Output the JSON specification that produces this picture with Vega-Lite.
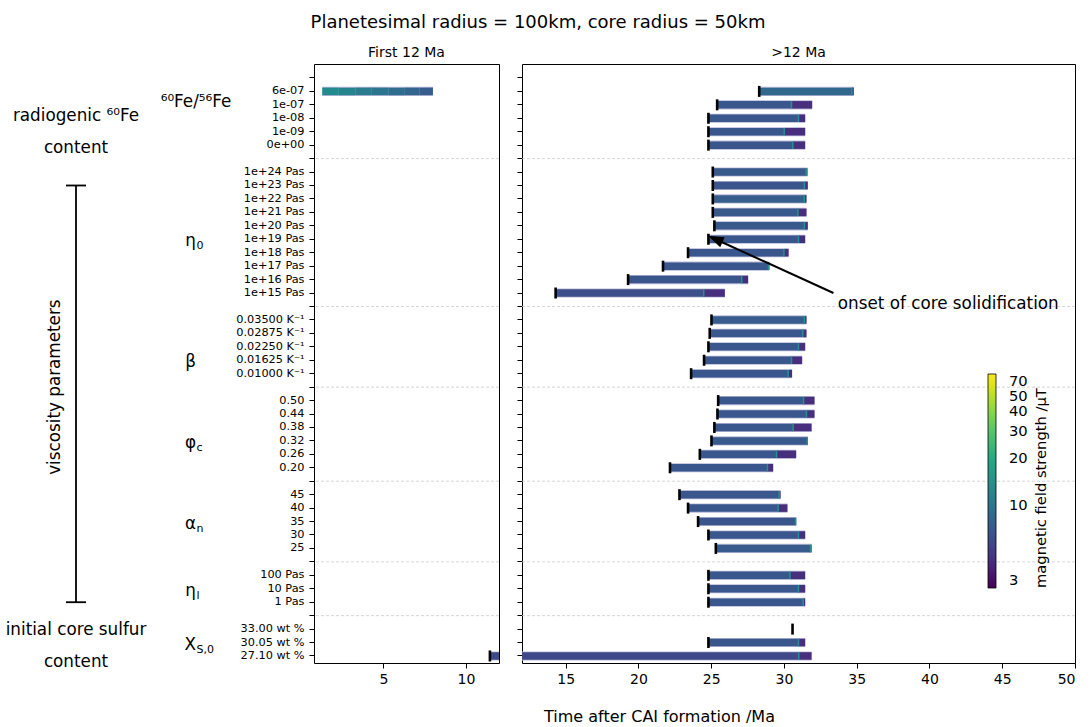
{
  "$schema": "https://vega.github.io/schema/vega-lite/v6.json",
  "padding": {"left": 0, "top": 13, "right": 0, "bottom": 0},
  "title": {"text": "Planetesimal radius = 100km, core radius = 50km", "fontSize": 18, "fontWeight": "normal", "anchor": "middle", "offset": 14, "color": "black"},
  "config": {
    "font": "DejaVu Sans",
    "view": {"stroke": "black", "strokeWidth": 1},
    "axis": {"domainColor": "black", "tickColor": "black", "labelColor": "black", "titleColor": "black", "grid": false, "labelFont": "DejaVu Sans", "titleFont": "DejaVu Sans"},
    "legend": {"labelFont": "DejaVu Sans", "titleFont": "DejaVu Sans", "labelColor": "black", "titleColor": "black"},
    "title": {"font": "DejaVu Sans"},
    "text": {"font": "DejaVu Sans", "color": "black"}
  },
  "datasets": {
    "runs": [
      {"p": "6e-07", "onset": 28.3, "solid": 34.67, "end": 34.8, "B": 8.6},
      {"p": "1e-07", "onset": 25.41, "solid": 30.52, "end": 31.94, "B": 7.0},
      {"p": "1e-08", "onset": 24.81, "solid": 31.0, "end": 31.46, "B": 7.0},
      {"p": "1e-09", "onset": 24.81, "solid": 30.02, "end": 31.46, "B": 7.0},
      {"p": "0e+00", "onset": 24.81, "solid": 30.61, "end": 31.46, "B": 7.0},
      {"p": "1e+24 Pas", "onset": 25.11, "solid": 31.53, "end": 31.62, "B": 7.2},
      {"p": "1e+23 Pas", "onset": 25.11, "solid": 31.41, "end": 31.64, "B": 6.8},
      {"p": "1e+22 Pas", "onset": 25.11, "solid": 31.4, "end": 31.55, "B": 7.6},
      {"p": "1e+21 Pas", "onset": 25.11, "solid": 30.96, "end": 31.55, "B": 7.2},
      {"p": "1e+20 Pas", "onset": 25.22, "solid": 31.41, "end": 31.64, "B": 7.2},
      {"p": "1e+19 Pas", "onset": 24.81, "solid": 31.0, "end": 31.46, "B": 7.0},
      {"p": "1e+18 Pas", "onset": 23.41, "solid": 30.0, "end": 30.32, "B": 7.0},
      {"p": "1e+17 Pas", "onset": 21.69, "solid": 28.94, "end": 29.0, "B": 7.0},
      {"p": "1e+16 Pas", "onset": 19.29, "solid": 27.1, "end": 27.54, "B": 6.9},
      {"p": "1e+15 Pas", "onset": 14.31, "solid": 24.49, "end": 25.94, "B": 6.3},
      {"p": "0.03500 K⁻¹", "onset": 25.02, "solid": 31.41, "end": 31.55, "B": 7.4},
      {"p": "0.02875 K⁻¹", "onset": 24.9, "solid": 31.3, "end": 31.55, "B": 7.0},
      {"p": "0.02250 K⁻¹", "onset": 24.81, "solid": 31.0, "end": 31.46, "B": 7.0},
      {"p": "0.01625 K⁻¹", "onset": 24.51, "solid": 30.52, "end": 31.25, "B": 7.0},
      {"p": "0.01000 K⁻¹", "onset": 23.62, "solid": 30.29, "end": 30.56, "B": 7.0},
      {"p": "0.50", "onset": 25.48, "solid": 31.35, "end": 32.1, "B": 7.0},
      {"p": "0.44", "onset": 25.43, "solid": 31.55, "end": 32.1, "B": 7.0},
      {"p": "0.38", "onset": 25.22, "solid": 30.63, "end": 31.9, "B": 7.0},
      {"p": "0.32", "onset": 25.02, "solid": 31.6, "end": 31.64, "B": 7.2},
      {"p": "0.26", "onset": 24.22, "solid": 29.49, "end": 30.84, "B": 7.0},
      {"p": "0.20", "onset": 22.17, "solid": 28.87, "end": 29.26, "B": 7.0},
      {"p": "45", "onset": 22.82, "solid": 29.67, "end": 29.77, "B": 7.0},
      {"p": "40", "onset": 23.41, "solid": 29.6, "end": 30.24, "B": 7.0},
      {"p": "35", "onset": 24.1, "solid": 30.8, "end": 30.84, "B": 6.9},
      {"p": "30", "onset": 24.81, "solid": 31.0, "end": 31.46, "B": 7.0},
      {"p": "25", "onset": 25.32, "solid": 31.83, "end": 31.9, "B": 7.3},
      {"p": "100 Pas", "onset": 24.81, "solid": 30.41, "end": 31.46, "B": 7.0},
      {"p": "10 Pas", "onset": 24.81, "solid": 31.0, "end": 31.46, "B": 7.0},
      {"p": "1 Pas", "onset": 24.81, "solid": 31.32, "end": 31.46, "B": 7.0},
      {"p": "33.00 wt %", "onset": 30.59, "solid": null, "end": null, "B": null},
      {"p": "30.05 wt %", "onset": 24.81, "solid": 31.0, "end": 31.46, "B": 7.0},
      {"p": "27.10 wt %", "onset": 11.45, "solid": 31.02, "end": 31.9, "B": 5.9}
    ],
    "early": [
      {"p": "6e-07", "t0": 1.3, "t1": 2.3, "B": 13.5},
      {"p": "6e-07", "t0": 2.3, "t1": 3.3, "B": 12.3},
      {"p": "6e-07", "t0": 3.3, "t1": 4.3, "B": 11.2},
      {"p": "6e-07", "t0": 4.3, "t1": 5.3, "B": 10.2},
      {"p": "6e-07", "t0": 5.3, "t1": 6.3, "B": 9.2},
      {"p": "6e-07", "t0": 6.3, "t1": 7.2, "B": 8.3},
      {"p": "6e-07", "t0": 7.2, "t1": 8.0, "B": 7.5}
    ],
    "seps": [{"r": "b1"}, {"r": "b2"}, {"r": "b3"}, {"r": "b4"}, {"r": "b5"}, {"r": "b6"}],
    "farleft1": [{"lab": "radiogenic ⁶⁰Fe\ncontent", "row": "1e-08", "col": "group"}],
    "farleft2": [{"lab": "initial core sulfur\ncontent", "row": "33.00 wt %", "col": "group"}],
    "vis": [{"lab": "viscosity parameters", "row": "b3", "col": "group"}],
    "bracket": [{"col": "group", "r1": "1e+23 Pas", "r2": "1 Pas"}],
    "caps": [{"col": "group", "r": "1e+23 Pas"}, {"col": "group", "r": "1 Pas"}],
    "fe": [{"lab": "⁶⁰Fe/⁵⁶Fe", "row": "1e-07", "col": "param"}],
    "params": [
      {"row": "1e+19 Pas", "main": "η", "sub": "0", "col": "param"},
      {"row": "0.01625 K⁻¹", "main": "β", "sub": "", "col": "param"},
      {"row": "0.32", "main": "φ", "sub": "c", "col": "param"},
      {"row": "35", "main": "α", "sub": "n", "col": "param"},
      {"row": "10 Pas", "main": "η", "sub": "l", "col": "param"},
      {"row": "30.05 wt %", "main": "X", "sub": "S,0", "col": "param"}
    ],
    "arrow": [{"x1": 33.4, "r1": "1e+15 Pas", "x2": 25.3, "r2": "1e+19 Pas"}],
    "note": [{"lab": "onset of core solidification", "x": 33.7, "row": "1e+15 Pas"}]
  },
  "bounds": "flush",
  "spacing": 23,
  "resolve": {"scale": {"x": "independent", "y": "independent", "color": "shared"}},
  "hconcat": [
    {
      "width": 291,
      "height": 599,
      "view": {"stroke": null},
      "layer": [
        {
          "data": {"name": "farleft1"},
          "mark": {"type": "text", "lineBreak": "\n", "lineHeight": 32, "fontSize": 16.8, "align": "center", "baseline": "middle", "dy": -2},
          "encoding": {
            "x": {"field": "col", "type": "nominal", "scale": {"type": "point", "domain": ["group", "param"], "range": [76, 196], "padding": 0}, "axis": null},
            "y": {"field": "row", "type": "nominal", "scale": {"type": "band", "domain": ["b0", "6e-07", "1e-07", "1e-08", "1e-09", "0e+00", "b1", "1e+24 Pas", "1e+23 Pas", "1e+22 Pas", "1e+21 Pas", "1e+20 Pas", "1e+19 Pas", "1e+18 Pas", "1e+17 Pas", "1e+16 Pas", "1e+15 Pas", "b2", "0.03500 K⁻¹", "0.02875 K⁻¹", "0.02250 K⁻¹", "0.01625 K⁻¹", "0.01000 K⁻¹", "b3", "0.50", "0.44", "0.38", "0.32", "0.26", "0.20", "b4", "45", "40", "35", "30", "25", "b5", "100 Pas", "10 Pas", "1 Pas", "b6", "33.00 wt %", "30.05 wt %", "27.10 wt %"], "paddingInner": 0, "paddingOuter": 0.28, "align": 0.96}, "axis": null},
            "text": {"field": "lab", "type": "nominal"}
          }
        },
        {
          "data": {"name": "farleft2"},
          "mark": {"type": "text", "lineBreak": "\n", "lineHeight": 32, "fontSize": 16.8, "align": "center", "baseline": "middle", "dy": 1},
          "encoding": {
            "x": {"field": "col", "type": "nominal"},
            "y": {"field": "row", "type": "nominal"},
            "text": {"field": "lab", "type": "nominal"}
          }
        },
        {
          "data": {"name": "vis"},
          "mark": {"type": "text", "fontSize": 16.8, "angle": 270, "align": "center", "baseline": "middle", "dy": -21},
          "encoding": {
            "x": {"field": "col", "type": "nominal"},
            "y": {"field": "row", "type": "nominal"},
            "text": {"field": "lab", "type": "nominal"}
          }
        },
        {
          "data": {"name": "bracket"},
          "mark": {"type": "rule", "color": "black", "strokeWidth": 1.8},
          "encoding": {
            "x": {"field": "col", "type": "nominal"},
            "y": {"field": "r1", "type": "nominal"},
            "y2": {"field": "r2"}
          }
        },
        {
          "data": {"name": "caps"},
          "mark": {"type": "point", "shape": "M-1,0H1", "size": 400, "filled": false, "stroke": "black", "strokeWidth": 1.8, "opacity": 1},
          "encoding": {
            "x": {"field": "col", "type": "nominal"},
            "y": {"field": "r", "type": "nominal"}
          }
        },
        {
          "data": {"name": "fe"},
          "mark": {"type": "text", "fontSize": 16.8, "align": "center", "baseline": "middle", "dy": -3},
          "encoding": {
            "x": {"field": "col", "type": "nominal"},
            "y": {"field": "row", "type": "nominal"},
            "text": {"field": "lab", "type": "nominal"}
          }
        },
        {
          "data": {"name": "params"},
          "mark": {"type": "text", "fontSize": 16.8, "align": "right", "baseline": "middle", "dy": 2},
          "encoding": {
            "x": {"field": "col", "type": "nominal"},
            "y": {"field": "row", "type": "nominal"},
            "text": {"field": "main", "type": "nominal"}
          }
        },
        {
          "data": {"name": "params"},
          "mark": {"type": "text", "fontSize": 11, "align": "left", "baseline": "middle", "dy": 7, "dx": 0.5},
          "encoding": {
            "x": {"field": "col", "type": "nominal"},
            "y": {"field": "row", "type": "nominal"},
            "text": {"field": "sub", "type": "nominal"}
          }
        }
      ]
    },
    {
      "width": 185,
      "height": 599,
      "title": {"text": "First 12 Ma", "fontSize": 14, "fontWeight": "normal", "offset": 4, "color": "black"},
      "encoding": {
        "y": {"field": "p", "type": "nominal", "scale": {"type": "band", "domain": ["b0", "6e-07", "1e-07", "1e-08", "1e-09", "0e+00", "b1", "1e+24 Pas", "1e+23 Pas", "1e+22 Pas", "1e+21 Pas", "1e+20 Pas", "1e+19 Pas", "1e+18 Pas", "1e+17 Pas", "1e+16 Pas", "1e+15 Pas", "b2", "0.03500 K⁻¹", "0.02875 K⁻¹", "0.02250 K⁻¹", "0.01625 K⁻¹", "0.01000 K⁻¹", "b3", "0.50", "0.44", "0.38", "0.32", "0.26", "0.20", "b4", "45", "40", "35", "30", "25", "b5", "100 Pas", "10 Pas", "1 Pas", "b6", "33.00 wt %", "30.05 wt %", "27.10 wt %"], "paddingInner": 0, "paddingOuter": 0.28, "align": 0.96}, "axis": {"title": null, "labelFontSize": 11.3, "tickSize": 5, "labelPadding": 5, "domain": false, "labelExpr": "indexof(['b0','b1','b2','b3','b4','b5','b6'], datum.value) >= 0 ? '' : datum.value"}}
      },
      "layer": [
        {
          "data": {"name": "seps"},
          "mark": {"type": "rule", "color": "#cccccc", "strokeWidth": 0.8, "strokeDash": [3, 2]},
          "encoding": {"y": {"field": "r", "type": "nominal"}}
        },
        {
          "data": {"name": "early"},
          "mark": {"type": "bar", "clip": true, "color": "#b9b9d8", "height": {"band": 0.68}},
          "encoding": {
            "x": {"aggregate": "min", "field": "t0", "type": "quantitative", "scale": {"domain": [0.8, 12], "nice": false, "zero": false}, "axis": {"title": null, "values": [5, 10], "labelFontSize": 14, "tickSize": 5, "domain": false, "labelPadding": 4}},
            "x2": {"aggregate": "max", "field": "t1"}
          }
        },
        {
          "data": {"name": "early"},
          "mark": {"type": "bar", "clip": true, "height": {"band": 0.56}},
          "encoding": {
            "x": {"field": "t0", "type": "quantitative"},
            "x2": {"field": "t1"},
            "color": {"field": "B", "type": "quantitative", "scale": {"type": "log", "domain": [3, 70], "scheme": "viridis"}, "legend": {"title": "magnetic field strength /μT", "orient": "none", "legendX": 988, "legendY": 310, "direction": "vertical", "gradientLength": 214, "gradientThickness": 8, "values": [3, 10, 20, 30, 40, 50, 70], "titleOrient": "right", "titleAnchor": "start", "titleAlign": "left", "titleBaseline": "top", "titleLimit": 400, "titlePadding": 6, "labelFontSize": 14.7, "titleFontSize": 14.7, "titleFontWeight": "normal", "gradientStrokeColor": "black", "gradientStrokeWidth": 0.8, "labelOverlap": false, "labelOffset": 13, "labelBaseline": "middle", "encoding": {"title": {"angle": {"value": 270}}}}}
          }
        },
        {
          "data": {"name": "runs"},
          "mark": {"type": "bar", "clip": true, "color": "#b9b9d8", "height": {"band": 0.68}},
          "encoding": {"x": {"field": "onset", "type": "quantitative"}, "x2": {"field": "end"}}
        },
        {
          "data": {"name": "runs"},
          "mark": {"type": "bar", "clip": true, "height": {"band": 0.56}},
          "encoding": {
            "x": {"field": "onset", "type": "quantitative"},
            "x2": {"field": "solid"},
            "color": {"field": "B", "type": "quantitative", "legend": {"title": "magnetic field strength /μT", "orient": "none", "legendX": 988, "legendY": 310, "direction": "vertical", "gradientLength": 214, "gradientThickness": 8, "values": [3, 10, 20, 30, 40, 50, 70], "titleOrient": "right", "titleAnchor": "start", "titleAlign": "left", "titleBaseline": "top", "titleLimit": 400, "titlePadding": 6, "labelFontSize": 14.7, "titleFontSize": 14.7, "titleFontWeight": "normal", "gradientStrokeColor": "black", "gradientStrokeWidth": 0.8, "labelOverlap": false, "labelOffset": 13, "labelBaseline": "middle", "encoding": {"title": {"angle": {"value": 270}}}}}
          }
        },
        {
          "data": {"name": "runs"},
          "mark": {"type": "tick", "clip": true, "color": "black", "thickness": 2.6, "size": 11, "opacity": 1},
          "encoding": {"x": {"field": "onset", "type": "quantitative"}}
        }
      ]
    },
    {
      "width": 553,
      "height": 599,
      "title": {"text": ">12 Ma", "fontSize": 14, "fontWeight": "normal", "offset": 4, "color": "black"},
      "encoding": {
        "y": {"field": "p", "type": "nominal", "scale": {"type": "band", "domain": ["b0", "6e-07", "1e-07", "1e-08", "1e-09", "0e+00", "b1", "1e+24 Pas", "1e+23 Pas", "1e+22 Pas", "1e+21 Pas", "1e+20 Pas", "1e+19 Pas", "1e+18 Pas", "1e+17 Pas", "1e+16 Pas", "1e+15 Pas", "b2", "0.03500 K⁻¹", "0.02875 K⁻¹", "0.02250 K⁻¹", "0.01625 K⁻¹", "0.01000 K⁻¹", "b3", "0.50", "0.44", "0.38", "0.32", "0.26", "0.20", "b4", "45", "40", "35", "30", "25", "b5", "100 Pas", "10 Pas", "1 Pas", "b6", "33.00 wt %", "30.05 wt %", "27.10 wt %"], "paddingInner": 0, "paddingOuter": 0.28, "align": 0.96}, "axis": {"title": null, "labels": false, "tickSize": 5, "domain": false}}
      },
      "layer": [
        {
          "data": {"name": "seps"},
          "mark": {"type": "rule", "color": "#cccccc", "strokeWidth": 0.8, "strokeDash": [3, 2]},
          "encoding": {"y": {"field": "r", "type": "nominal"}}
        },
        {
          "data": {"name": "runs"},
          "mark": {"type": "bar", "clip": true, "color": "#b9b9d8", "height": {"band": 0.68}},
          "encoding": {
            "x": {"field": "onset", "type": "quantitative", "scale": {"domain": [12, 50], "nice": false, "zero": false}, "axis": {"title": "Time after CAI formation /Ma", "values": [15, 20, 25, 30, 35, 40, 45, 50], "labelFontSize": 14, "tickSize": 5, "domain": false, "labelPadding": 4, "titleFontSize": 16, "titleFontWeight": "normal", "titleX": 137, "titleY": 53, "titleBaseline": "middle", "titleAnchor": "middle"}},
            "x2": {"field": "end"}
          }
        },
        {
          "data": {"name": "runs"},
          "mark": {"type": "bar", "clip": true, "height": {"band": 0.56}},
          "encoding": {
            "x": {"field": "onset", "type": "quantitative"},
            "x2": {"field": "solid"},
            "color": {"field": "B", "type": "quantitative", "scale": {"type": "log", "domain": [3, 70], "scheme": "viridis"}, "legend": {"title": "magnetic field strength /μT", "orient": "none", "legendX": 988, "legendY": 310, "direction": "vertical", "gradientLength": 214, "gradientThickness": 8, "values": [3, 10, 20, 30, 40, 50, 70], "titleOrient": "right", "titleAnchor": "start", "titleAlign": "left", "titleBaseline": "top", "titleLimit": 400, "titlePadding": 6, "labelFontSize": 14.7, "titleFontSize": 14.7, "titleFontWeight": "normal", "gradientStrokeColor": "black", "gradientStrokeWidth": 0.8, "labelOverlap": false, "labelOffset": 13, "labelBaseline": "middle", "encoding": {"title": {"angle": {"value": 270}}}}}
          }
        },
        {
          "data": {"name": "runs"},
          "mark": {"type": "bar", "clip": true, "height": {"band": 0.56}, "color": "#472f7d"},
          "encoding": {
            "x": {"field": "solid", "type": "quantitative"},
            "x2": {"field": "end"}
          }
        },
        {
          "data": {"name": "runs"},
          "mark": {"type": "tick", "clip": true, "thickness": 1.5, "size": 7.5, "color": "#21918c", "opacity": 1},
          "encoding": {
            "x": {"field": "solid", "type": "quantitative"}
          }
        },
        {
          "data": {"name": "runs"},
          "mark": {"type": "tick", "clip": true, "color": "black", "thickness": 2.6, "size": 11, "opacity": 1},
          "encoding": {"x": {"field": "onset", "type": "quantitative"}}
        },
        {
          "data": {"name": "arrow"},
          "mark": {"type": "rule", "color": "black", "strokeWidth": 2},
          "encoding": {
            "x": {"field": "x1", "type": "quantitative"},
            "x2": {"field": "x2"},
            "y": {"field": "r1", "type": "nominal"},
            "y2": {"field": "r2"}
          }
        },
        {
          "data": {"name": "arrow"},
          "mark": {"type": "point", "shape": "M0,-1L0.65,0.9L-0.65,0.9Z", "size": 280, "angle": 294, "filled": true, "color": "black", "opacity": 1},
          "encoding": {
            "x": {"field": "x2", "type": "quantitative"},
            "y": {"field": "r2", "type": "nominal"}
          }
        },
        {
          "data": {"name": "note"},
          "mark": {"type": "text", "fontSize": 16.8, "align": "left", "baseline": "middle", "dy": 11},
          "encoding": {
            "x": {"field": "x", "type": "quantitative"},
            "y": {"field": "row", "type": "nominal"},
            "text": {"field": "lab", "type": "nominal"}
          }
        }
      ]
    }
  ]
}
